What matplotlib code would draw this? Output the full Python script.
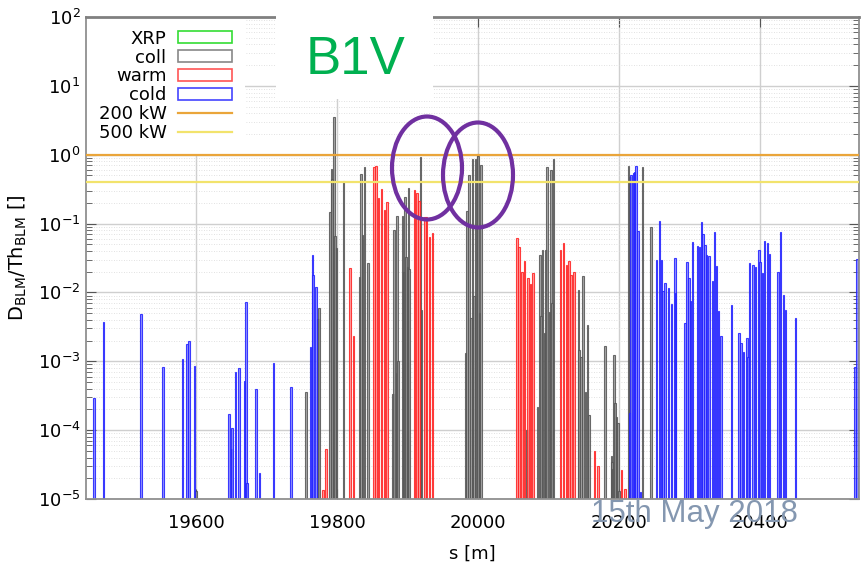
"""
plot.py — BLM signal over threshold along s for B1V (15th May 2018).

Draws the loss-map bars per BLM family on a log axis and saves out.png.
"""
import matplotlib
matplotlib.use("Agg")
import matplotlib.pyplot as plt
from matplotlib.lines import Line2D
from matplotlib.patches import Ellipse, Patch, Rectangle
from matplotlib.ticker import FixedLocator, LogLocator, NullFormatter

# ── Data ──────────────────────────────────────────────────────────────────────

Y_MIN, Y_MAX = 1e-5, 1e2
X_MIN, X_MAX = 19444, 20540
X_TICKS = [19600, 19800, 20000, 20200, 20400]

cold_s = [19455, 19469, 19522, 19553, 19581, 19587, 19590, 19598, 19647, 19650,
          19651, 19656, 19661, 19669, 19671, 19672, 19685, 19690, 19710, 19735,
          19762, 19765, 19766, 19770, 20215, 20217, 20220, 20222, 20224, 20227,
          20230, 20253, 20257, 20260, 20262, 20265, 20270, 20274, 20279, 20280,
          20293, 20296, 20299, 20301, 20304, 20311, 20314, 20317, 20319, 20322,
          20324, 20327, 20332, 20335, 20338, 20341, 20344, 20359, 20370, 20373,
          20376, 20381, 20383, 20385, 20390, 20393, 20398, 20400, 20403, 20406,
          20410, 20413, 20425, 20429, 20433, 20436, 20450, 20534, 20537]
cold_val = [2.9e-4, 3.7e-3, 4.9e-3, 8.3e-4, 1.07e-3, 1.78e-3, 1.97e-3, 8.6e-4, 1.7e-4, 5.3e-5,
            1.07e-4, 7.1e-4, 7.9e-4, 5.2e-4, 7.3e-3, 1.7e-5, 3.9e-4, 2.4e-5, 9.3e-4, 4.2e-4,
            1.6e-3, 3.5e-2, 1.8e-2, 1.19e-2, 1.76e-4, 0.51, 0.54, 0.56, 0.69, 0.078,
            1.28e-5, 0.030, 0.110, 0.030, 0.0106, 0.0135, 0.0115, 6.8e-3, 0.0316, 9.9e-3,
            3.6e-3, 0.0277, 0.016, 7.6e-3, 0.054, 0.0477, 0.045, 0.104, 0.07, 0.049,
            0.035, 0.034, 0.0148, 0.075, 0.0245, 5.4e-3, 2.3e-3, 6.6e-3, 2.55e-3, 1.86e-3,
            1.38e-3, 2.16e-3, 1.14e-3, 0.0265, 0.025, 0.0231, 0.042, 0.028, 0.019, 0.055,
            0.052, 0.036, 0.0198, 0.076, 9.2e-3, 5.6e-3, 4.2e-3, 8.3e-4, 0.031]

coll_s = [19600, 19756, 19773, 19774, 19790, 19792, 19793, 19796, 19797, 19799,
          19809, 19832, 19834, 19836, 19839, 19844, 19879, 19881, 19884, 19885,
          19886, 19893, 19895, 19896, 19898, 19900, 19901, 19902, 19918, 19920,
          19982, 19984, 19987, 19990, 19992, 19994, 19996, 19999, 20000, 20002,
          20004, 20069, 20084, 20088, 20089, 20091, 20094, 20096, 20098, 20101,
          20103, 20105, 20107, 20142, 20143, 20146, 20149, 20152, 20155, 20157,
          20180, 20189, 20190, 20191, 20193, 20194, 20196, 20198, 20200, 20213,
          20215, 20233, 20245]
coll_val = [1.3e-5, 3.6e-4, 4.1e-3, 5.9e-3, 0.149, 0.61, 0.45, 3.56, 0.066, 0.044,
            0.41, 0.0166, 0.52, 0.068, 0.67, 0.027, 3.4e-4, 0.082, 6.7e-4, 0.129,
            1.0e-3, 0.129, 0.02, 0.245, 0.033, 0.0236, 0.325, 0.0216, 0.92, 5.6e-3,
            1.3e-3, 0.15, 0.5, 4.2e-3, 0.86, 9e-3, 0.86, 1.02, 0.95, 5e-3,
            0.71, 1.0e-4, 2.2e-4, 0.035, 4.5e-3, 0.041, 2.6e-3, 0.042, 0.656, 5.2e-3,
            0.6, 7e-3, 0.86, 0.0108, 1.46e-3, 1.17e-3, 0.0175, 3.6e-4, 3.4e-3, 1.66e-4,
            1.69e-3, 4.2e-5, 3.5e-5, 2.7e-5, 1.23e-3, 2.45e-4, 1.57e-4, 1.26e-4, 1.3e-5, 0.69,
            0.48, 0.656, 0.088]

warm_s = [19780, 19784, 19818, 19823, 19852, 19855, 19859, 19863, 19867, 19871,
          19910, 19913, 19916, 19925, 19927, 19931, 19935, 20055, 20058, 20062,
          20066, 20071, 20074, 20078, 20117, 20121, 20125, 20129, 20132, 20136,
          20165, 20170, 20203, 20208]
warm_val = [1.35e-5, 5.4e-5, 0.0224, 2.3e-3, 0.656, 0.69, 0.238, 0.315, 0.157, 0.208,
            0.307, 0.28, 0.21, 0.126, 0.126, 0.064, 0.072, 0.061, 0.045, 0.02,
            0.029, 0.016, 0.0132, 0.019, 0.042, 0.053, 0.025, 0.0286, 0.018, 0.02,
            4.9e-5, 3.0e-5, 2.6e-5, 1.4e-5]

xrp_s = []
xrp_val = []

limit_200kw = 1.0
limit_500kw = 0.4

# ── Figure ────────────────────────────────────────────────────────────────────

W, H = 861, 565
fig = plt.figure(figsize=(W / 100, H / 100), dpi=100)
ax = fig.add_axes([86 / W, 1 - 499 / H, 773 / W, 482 / H])

ax.set_yscale("log")
ax.set_ylim(Y_MIN, Y_MAX)
ax.set_xlim(X_MIN, X_MAX)

families = [
    (xrp_s, xrp_val, "#00ee00", "#80ff80"),
    (coll_s, coll_val, "#555555", "#999999"),
    (warm_s, warm_val, "#ff2020", "#ff9090"),
    (cold_s, cold_val, "#2020ff", "#8080ff"),
]
for s, val, edge, fill in families:
    if not s:
        continue
    heights = [v - Y_MIN for v in val]
    ax.bar(s, heights, bottom=Y_MIN, width=2.2, color=fill, edgecolor=edge,
           linewidth=0.8, alpha=0.85, zorder=2)

ax.axhline(limit_200kw, color="#eaa53a", lw=1.6, zorder=3)
ax.axhline(limit_500kw, color="#f2e36c", lw=1.6, zorder=3)

# ── Axes styling ──────────────────────────────────────────────────────────────

ax.xaxis.set_major_locator(FixedLocator(X_TICKS))
ax.yaxis.set_major_locator(LogLocator(base=10, numticks=20))
ax.yaxis.set_minor_locator(LogLocator(base=10, subs=range(2, 10), numticks=20))
ax.yaxis.set_minor_formatter(NullFormatter())

ax.grid(True, which="major", color="#cfcfcf", lw=1.0, zorder=0)
ax.grid(True, which="minor", axis="y", color="#d8d8d8", lw=0.6,
        linestyle=(0, (1, 2)), zorder=0)
ax.set_axisbelow(True)

ax.tick_params(which="both", direction="in", top=True, right=True,
               color="#555555", labelsize=13)
ax.tick_params(which="major", length=7)
ax.tick_params(which="minor", length=4)
ax.tick_params(axis="x", pad=11)
ax.tick_params(axis="y", pad=4)

for sp in ax.spines.values():
    sp.set_color("#909090")
    sp.set_linewidth(1.3)
ax.spines["top"].set_color("#808080")
ax.spines["top"].set_linewidth(2.0)

ax.set_xlabel("s [m]", fontsize=13, labelpad=9)
ax.set_ylabel(r"$\mathrm{D_{BLM}/Th_{BLM}}$ []", fontsize=14, labelpad=6)

# ── Legend ────────────────────────────────────────────────────────────────────

handles = [
    Patch(facecolor="white", edgecolor="#33dd33", lw=1.2, label="XRP"),
    Patch(facecolor="white", edgecolor="#888888", lw=1.2, label="coll"),
    Patch(facecolor="white", edgecolor="#ff5555", lw=1.2, label="warm"),
    Patch(facecolor="white", edgecolor="#4444ff", lw=1.2, label="cold"),
    Line2D([], [], color="#eaa53a", lw=1.6, label="200 kW"),
    Line2D([], [], color="#f2e36c", lw=1.6, label="500 kW"),
]
leg = ax.legend(handles=handles, loc="upper left", bbox_to_anchor=(0, 1),
                markerfirst=False, fontsize=13, handlelength=3.0,
                handleheight=0.65, handletextpad=0.65, labelspacing=0.05,
                borderpad=0.7, borderaxespad=0, frameon=True, fancybox=False)
leg.get_frame().set_facecolor("white")
leg.get_frame().set_edgecolor("none")
leg.get_frame().set_alpha(1)
# keep the spines and ticks drawn over the legend background
leg.set_zorder(2.4)

# ── Slide annotations ─────────────────────────────────────────────────────────

fig.patches.append(Rectangle((276 / W, 1 - 99 / H), 157 / W, 99 / H,
                             transform=fig.transFigure, facecolor="white",
                             edgecolor="none", zorder=10))
fig.text(355 / W, 1 - 60 / H, "B1V", color="#00b050", fontsize=38,
         family="Liberation Sans", ha="center", va="center", zorder=11)

for cx, cy, ew, eh in [(427, 168, 70, 103), (478, 175, 70, 105)]:
    fig.patches.append(Ellipse((cx / W, 1 - cy / H), ew / W, eh / H,
                               transform=fig.transFigure, fill=False,
                               edgecolor="#7030a0", lw=3.0, zorder=12))

fig.text(694 / W, 1 - 514 / H, "15th May 2018", color="#8497b0", fontsize=22.5,
         family="Liberation Sans", ha="center", va="center", zorder=12)

fig.savefig("out.png", dpi=100)
